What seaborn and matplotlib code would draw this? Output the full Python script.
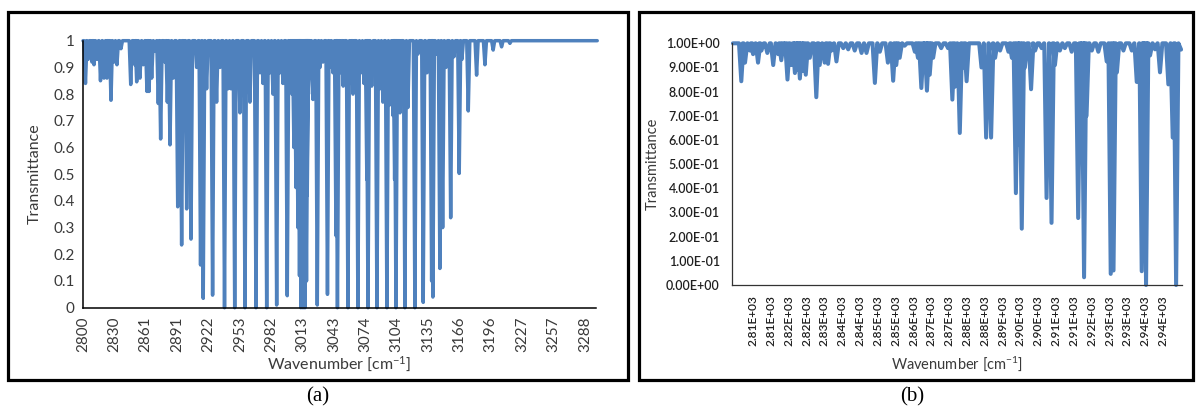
import numpy as np
import pandas as pd
import matplotlib
matplotlib.use("Agg")
import matplotlib.pyplot as plt
from matplotlib.patches import Rectangle
import seaborn as sns

# ---------------- data ----------------
# (a) absorption lines: centre wavenumber [cm-1] and minimum transmittance
lines_a_wn = [2802.4, 2804.9, 2808.7, 2810.7, 2813.6, 2817.0, 2820.4, 2823.3, 2824.8, 2827.2,
              2830.1, 2833.0, 2836.9, 2846.4, 2850.5, 2852.2, 2855.4, 2858.6, 2862.2, 2864.2,
              2866.8, 2870.0, 2873.2, 2875.5, 2879.7, 2882.0, 2884.6, 2887.8, 2892.1, 2895.9,
              2898.2, 2900.8, 2905.0, 2910.5, 2914.3, 2916.9, 2920.2, 2926.0, 2929.9, 2933.2,
              2937.6, 2941.0, 2943.9, 2947.5, 2952.6, 2957.5, 2962.3, 2968.2, 2972.1, 2975.0,
              2978.6, 2981.8, 2984.7, 2988.3, 2991.5, 2994.4, 2998.6, 3001.2, 3003.2, 3005.1,
              3007.1, 3009.0, 3010.5, 3011.9, 3013.9, 3015.8, 3017.3, 3018.0, 3019.2, 3020.7,
              3023.6, 3027.8, 3030.4, 3033.3, 3037.7, 3040.1, 3043.0, 3046.0, 3047.4, 3050.8,
              3053.0, 3057.6, 3060.5, 3062.5, 3067.3, 3070.2, 3073.2, 3076.0, 3077.1, 3080.7,
              3085.8, 3088.7, 3091.6, 3095.5, 3098.4, 3101.4, 3103.0, 3104.3, 3106.2, 3108.2,
              3113.0, 3115.9, 3122.7, 3125.7, 3130.8, 3134.4, 3139.0, 3140.2, 3144.1, 3147.0,
              3149.7, 3152.9, 3157.5, 3160.7, 3165.8, 3168.4, 3174.6, 3182.7, 3190.8, 3198.8,
              3207.0, 3215.1]
lines_a_T = [0.84, 0.93, 0.92, 0.91, 0.93, 0.85, 0.86, 0.86, 0.88, 0.777,
             0.92, 0.91, 0.97, 0.836, 0.91, 0.846, 0.86, 0.91, 0.81, 0.81,
             0.86, 0.96, 0.765, 0.632, 0.92, 0.77, 0.61, 0.86, 0.378, 0.235,
             0.81, 0.37, 0.257, 0.90, 0.16, 0.035, 0.82, 0.047, 0.77, 0.90,
             0.0, 0.82, 0.82, 0.0, 0.73, 0.0, 0.77, 0.0, 0.88, 0.84,
             0.0, 0.88, 0.80, 0.01, 0.88, 0.84, 0.045, 0.90, 0.80, 0.60,
             0.45, 0.30, 0.12, 0.0, 0.0, 0.0, 0.10, 0.42, 0.80, 0.88,
             0.78, 0.01, 0.90, 0.92, 0.05, 0.90, 0.88, 0.27, 0.0, 0.88,
             0.83, 0.0, 0.85, 0.80, 0.0, 0.88, 0.84, 0.48, 0.0, 0.83,
             0.0, 0.82, 0.77, 0.0, 0.76, 0.72, 0.48, 0.0, 0.80, 0.73,
             0.0, 0.75, 0.0, 0.95, 0.02, 0.88, 0.10, 0.04, 0.95, 0.147,
             0.30, 0.90, 0.337, 0.94, 0.503, 0.93, 0.737, 0.871, 0.91, 0.965,
             0.977, 0.99]
a_start, a_end = 2800.0, 3300.0
a_ticks = ["2800", "2830", "2861", "2891", "2922", "2953", "2982", "3013", "3043",
           "3074", "3104", "3135", "3166", "3196", "3227", "3257", "3288"]

# (b) higher-resolution view of 2800-2945 cm-1
lines_b_wn = [2804.2, 2805.4, 2807.0, 2808.0, 2809.6, 2810.7, 2812.6, 2814.5, 2816.1, 2817.1,
              2818.2, 2819.1, 2820.4, 2821.5, 2822.2, 2823.1, 2824.1, 2825.0, 2826.3, 2828.4,
              2829.5, 2831.1, 2832.2, 2833.3, 2834.9, 2837.1, 2838.7, 2840.8, 2843.0, 2844.6,
              2847.3, 2848.9, 2851.5, 2853.2, 2854.2, 2855.3, 2856.9, 2860.2, 2861.2, 2862.3,
              2863.4, 2864.1, 2865.0, 2866.1, 2868.7, 2870.9, 2872.3, 2873.1, 2874.7, 2875.8,
              2876.9, 2881.7, 2883.2, 2884.8, 2886.1, 2887.7, 2890.4, 2891.5, 2892.8, 2893.6,
              2894.7, 2895.7, 2897.7, 2899.0, 2901.1, 2902.7, 2904.3, 2905.4, 2907.0, 2908.6,
              2910.8, 2912.9, 2914.0, 2914.8, 2915.6, 2917.3, 2919.4, 2922.1, 2923.4, 2924.3,
              2925.4, 2927.5, 2930.2, 2931.8, 2933.4, 2934.3, 2934.8, 2936.1, 2937.7, 2939.3,
              2942.0, 2943.4, 2944.5]
lines_b_T = [0.843, 0.92, 0.97, 0.955, 0.92, 0.97, 0.96, 0.91, 0.955, 0.93,
             0.97, 0.85, 0.91, 0.877, 0.89, 0.854, 0.885, 0.87, 0.94, 0.777,
             0.91, 0.92, 0.915, 0.97, 0.925, 0.98, 0.975, 0.97, 0.96, 0.96,
             0.836, 0.965, 0.92, 0.845, 0.91, 0.94, 0.99, 0.965, 0.94, 0.815,
             0.91, 0.804, 0.87, 0.94, 0.98, 0.98, 0.767, 0.82, 0.629, 0.90,
             0.843, 0.90, 0.61, 0.61, 0.94, 0.97, 0.965, 0.94, 0.38, 0.58,
             0.233, 0.90, 0.81, 0.97, 0.98, 0.36, 0.257, 0.91, 0.97, 0.98,
             0.965, 0.277, 0.65, 0.032, 0.70, 0.97, 0.965, 0.925, 0.046, 0.06,
             0.88, 0.97, 0.97, 0.84, 0.057, 0.66, 0.0, 0.95, 0.975, 0.88,
             0.83, 0.61, 0.0]
b_start, b_end, b_end_T = 2801.5, 2946.1, 0.974
b_ticks = ["2.81E+03", "2.81E+03", "2.82E+03", "2.82E+03", "2.83E+03", "2.84E+03",
           "2.84E+03", "2.85E+03", "2.85E+03", "2.86E+03", "2.87E+03", "2.87E+03",
           "2.88E+03", "2.88E+03", "2.89E+03", "2.90E+03", "2.90E+03", "2.91E+03",
           "2.91E+03", "2.92E+03", "2.93E+03", "2.93E+03", "2.94E+03", "2.94E+03"]

y_ticks = [0.0, 0.1, 0.2, 0.3, 0.4, 0.5, 0.6, 0.7, 0.8, 0.9, 1.0]


def trace(centres, mins, half_width, x0, x1, end_T=1.0):
    """Polyline of the transmittance trace: baseline at 1 with a dip per line."""
    xs, ys = [x0], [1.0]
    for c, t in sorted(zip(centres, mins)):
        xs += [c - half_width, c, c + half_width]
        ys += [1.0, t, 1.0]
    xs.append(x1)
    ys.append(end_T)
    return pd.DataFrame({"Wavenumber": xs, "Transmittance": ys})


df_a = trace(lines_a_wn, lines_a_T, 1.5, a_start, a_end)
df_b = trace(lines_b_wn, lines_b_T, 0.75, b_start, b_end, b_end_T)

# ---------------- styling ----------------
sns.set_theme(style="white")
plt.rcParams["font.family"] = ["Lato", "DejaVu Sans"]
plt.rcParams["mathtext.default"] = "regular"

BLUE = "#4F81BD"
TXT = "#3a3a3a"

fig = plt.figure(figsize=(11.97, 4.09), dpi=100)
W, H = 1197.0, 409.0


def axes_px(left, top, right, bottom):
    return fig.add_axes([left / W, 1 - bottom / H, (right - left) / W, (bottom - top) / H])


# panel frames
for (l, t, r, b) in [(8, 12, 628, 380), (639, 12, 1193, 380)]:
    fig.add_artist(Rectangle((l / W, 1 - b / H), (r - l) / W, (b - t) / H,
                             transform=fig.transFigure, fill=False,
                             edgecolor="black", linewidth=2.3))

# ----- panel (a) -----
ax = axes_px(83, 40.7, 596, 307.7)
sns.lineplot(data=df_a, x="Wavenumber", y="Transmittance", sort=False, estimator=None,
             color=BLUE, linewidth=2.5, ax=ax, clip_on=False)
ax.set_xlim(2800, 3298.8)
ax.set_ylim(0, 1)
xt = [2800 + 30.5 * i for i in range(len(a_ticks))]
ax.set_xticks(xt)
ax.set_xticklabels(a_ticks, rotation=90)
ax.set_yticks(y_ticks)
ax.set_yticklabels([f"{v:g}" for v in y_ticks])
ax.tick_params(axis="both", direction="inout", length=7, width=1.0, color="black",
               labelsize=11, labelcolor=TXT, pad=2.5)
for s in ["top", "right"]:
    ax.spines[s].set_visible(False)
for s in ["left", "bottom"]:
    ax.spines[s].set_color("black")
    ax.spines[s].set_linewidth(1.1)
ax.set_xlabel("")
ax.set_ylabel("")
fig.text(35 / W, 1 - 174 / H, "Transmittance", rotation=90, ha="center", va="center",
         fontsize=11.5, color=TXT)
fig.text(339 / W, 1 - 364 / H, "Wavenumber [cm$^{-1}$]", ha="center", va="center",
         fontsize=11.5, color=TXT)

# ----- panel (b) -----
bx = axes_px(732, 43.3, 1182, 285)
sns.lineplot(data=df_b, x="Wavenumber", y="Transmittance", sort=False, estimator=None,
             color=BLUE, linewidth=2.9, ax=bx, clip_on=False)
bx.set_xlim(2801.2, 2946.4)
bx.set_ylim(0, 1)
xtb = [2808 + 5.75 * i for i in range(len(b_ticks))]
bx.set_xticks(xtb)
bx.set_xticklabels(b_ticks, rotation=90)
bx.set_yticks(y_ticks)
bx.set_yticklabels([f"{v:.2E}" for v in y_ticks])
bx.tick_params(axis="y", direction="inout", length=5.5, width=0.9, color="#333333",
               labelsize=9, labelcolor="#202020", pad=6)
bx.tick_params(axis="x", length=0, labelsize=8.6, labelcolor="#202020", pad=7.5)
for lab in bx.get_xticklabels() + bx.get_yticklabels():
    lab.set_fontweight("semibold")
for s in ["top", "right"]:
    bx.spines[s].set_visible(False)
for s in ["left", "bottom"]:
    bx.spines[s].set_color("#333333")
    bx.spines[s].set_linewidth(0.9)
bx.set_xlabel("")
bx.set_ylabel("")
fig.text(653 / W, 1 - 164 / H, "Transmittance", rotation=90, ha="center", va="center",
         fontsize=10.5, color=TXT)
fig.text(957 / W, 1 - 364 / H, "Wavenumber [cm$^{-1}$]", ha="center", va="center",
         fontsize=10.5, color=TXT)

# panel captions
fig.text(318 / W, 1 - 397 / H, "(a)", ha="center", va="center", fontsize=15,
         family="Liberation Serif", color="black")
fig.text(912 / W, 1 - 397 / H, "(b)", ha="center", va="center", fontsize=15,
         family="Liberation Serif", color="black")

fig.savefig("out.png", dpi=100)
